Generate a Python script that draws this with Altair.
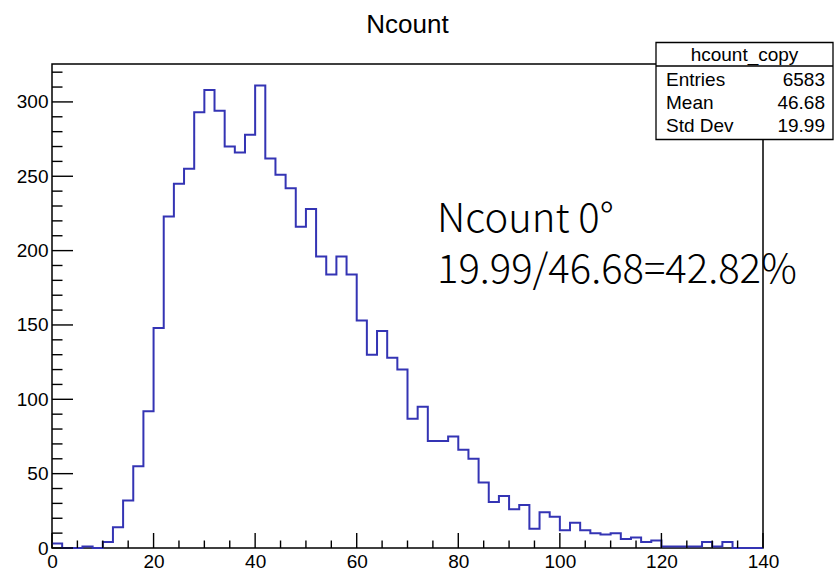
import altair as alt
import pandas as pd

# Histogram "Ncount": 70 bins of width 2 over [0, 140]
bin_width = 2
x_min, x_max = 0, 140
y_max = 325.5
counts = [
    3, 0, 0, 1, 0, 4, 14, 32, 55, 92,
    148, 223, 245, 255, 293, 308, 294, 270, 266, 278,
    311, 262, 251, 242, 216, 228, 196, 184, 196, 184,
    153, 130, 146, 128, 120, 87, 95, 72, 72, 75,
    66, 60, 44, 31, 35, 26, 29, 13, 24, 21,
    12, 17, 12, 10, 9, 10, 6, 7, 4, 5,
    1, 1, 1, 1, 4, 1, 4, 0, 0, 0,
]

# Axis labels and tick positions
x_labels = [0, 20, 40, 60, 80, 100, 120, 140]
x_minor = [v for v in range(0, 141, 5) if v not in x_labels]
y_labels = [0, 50, 100, 150, 200, 250, 300]
y_minor = [v for v in range(0, 321, 10) if v not in y_labels]

# Statistics box contents
box_title = "hcount_copy"
stat_names = ["Entries", "Mean", "Std Dev"]
stat_values = ["6583", "46.68", "19.99"]

# Free-text annotation
note_lines = ["Ncount 0°", "19.99/46.68=42.82%"]

W, H = 711, 484
FONT = "Liberation Sans"
LINE_BLUE = "#3434b4"

edges = [i * bin_width for i in range(len(counts) + 1)]
hist_df = pd.DataFrame({"x": edges, "n": counts + [counts[-1]]})

xs = alt.Scale(domain=[x_min, x_max], nice=False, zero=False)
ys = alt.Scale(domain=[0, y_max], nice=False, zero=True)

x_axis = alt.Axis(
    values=x_labels, title=None, ticks=False, tickSize=0, domain=False,
    grid=False, labelFontSize=19, labelFont=FONT, labelColor="black",
    labelPadding=4, labelFlush=False, labelOverlap=False, format="d")
y_axis = alt.Axis(
    values=y_labels, title=None, ticks=False, tickSize=0, domain=False,
    grid=False, labelFontSize=19, labelFont=FONT, labelColor="black",
    labelPadding=4, labelOverlap=False, format="d")

hist = alt.Chart(hist_df).mark_line(
    interpolate="step-after", color=LINE_BLUE, strokeWidth=2
).encode(
    x=alt.X("x:Q", scale=xs, axis=x_axis, title=None),
    y=alt.Y("n:Q", scale=ys, axis=y_axis, title=None),
)

def x_ticks(vals, length):
    return alt.Chart(pd.DataFrame({"x": vals})).mark_rule(
        color="black", strokeWidth=1.4
    ).encode(
        x=alt.X("x:Q", scale=xs, axis=x_axis, title=None),
        y=alt.value(H), y2=alt.value(H - length),
    )

def y_ticks(vals, length):
    return alt.Chart(pd.DataFrame({"n": vals})).mark_rule(
        color="black", strokeWidth=1.4
    ).encode(
        y=alt.Y("n:Q", scale=ys, axis=y_axis, title=None),
        x=alt.value(0), x2=alt.value(length),
    )

ticks = [
    x_ticks(x_labels, 15), x_ticks(x_minor, 7.5),
    y_ticks(y_labels, 21), y_ticks(y_minor, 10.5),
]

one = pd.DataFrame({"k": [0]})

title = alt.Chart(one).mark_text(
    text="Ncount", font=FONT, fontSize=26, color="black",
    align="center", baseline="alphabetic"
).encode(x=alt.value(W / 2), y=alt.value(-31))

# Statistics box
bx0, bx1, by0, by1 = 604, 781, -21.5, 75.5
box = alt.Chart(one).mark_rect(
    fill="white", stroke="black", strokeWidth=1.3
).encode(x=alt.value(bx0), x2=alt.value(bx1), y=alt.value(by0), y2=alt.value(by1))
divider = alt.Chart(one).mark_rule(color="black", strokeWidth=1.3).encode(
    x=alt.value(bx0), x2=alt.value(bx1), y=alt.value(2)
)
box_head = alt.Chart(one).mark_text(
    text=box_title, font=FONT, fontSize=19, color="black",
    align="center", baseline="middle"
).encode(x=alt.value((bx0 + bx1) / 2), y=alt.value(-9.5))

stat_layers = []
for i, (name, val) in enumerate(zip(stat_names, stat_values)):
    yy = 16 + i * 23
    stat_layers.append(alt.Chart(one).mark_text(
        text=name, font=FONT, fontSize=19, color="black",
        align="left", baseline="middle"
    ).encode(x=alt.value(614), y=alt.value(yy)))
    stat_layers.append(alt.Chart(one).mark_text(
        text=val, font=FONT, fontSize=19, color="black",
        align="right", baseline="middle"
    ).encode(x=alt.value(773), y=alt.value(yy)))

# Two-line annotation drawn as one multi-line text
note = alt.Chart(one).mark_text(
    text=note_lines, font="Noto Sans CJK SC", fontSize=40, fontWeight=300,
    lineHeight=51, color="black", align="left", baseline="alphabetic"
).encode(x=alt.value(385), y=alt.value(168))

chart = alt.layer(
    hist, *ticks, title, box, divider, box_head, *stat_layers, note
).properties(
    width=W, height=H,
    autosize=alt.AutoSizeParams(type="none"),
    padding={"left": 52, "top": 64, "right": 71, "bottom": 24},
    background="white",
).configure_view(
    stroke="black", strokeWidth=1.5
)

chart.save("out.html", embed_options={"renderer": "svg", "actions": False})
